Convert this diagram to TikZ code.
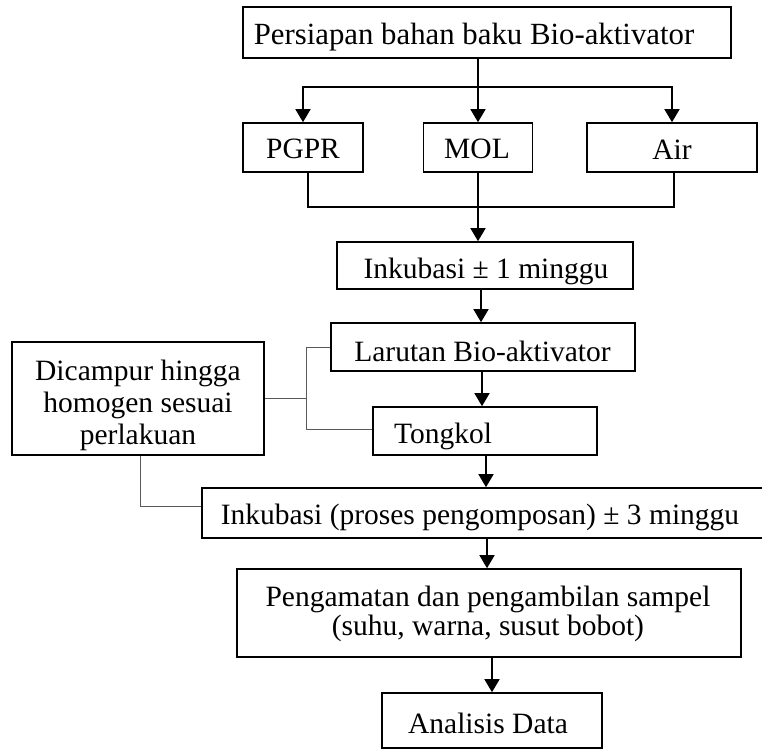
\documentclass[tikz,border=0pt]{standalone}
\usepackage{fontspec}
\setmainfont{Liberation Serif}
\usetikzlibrary{arrows.meta}
\begin{document}
\begin{tikzpicture}[x=1pt,y=-1pt,
  box/.style={draw=black,line width=1.6pt,inner sep=0pt,rectangle},
  txt/.style={inner sep=0pt,anchor=base,font=\fontsize{29.5}{31}\selectfont},
  arr/.style={line width=1.5pt,-{Triangle[length=13pt,width=15pt]}},
  conn/.style={line width=1.5pt},
  gline/.style={line width=1pt,draw=black!65}]
\useasboundingbox (0,0) rectangle (762,749);
\clip (0,0) rectangle (762,749);
% boxes
\node[box,minimum width=488pt,minimum height=51pt] (top) at (487,32.5) {};
\node[box,minimum width=120pt,minimum height=49pt] (pgpr) at (303,147.5) {};
\node[box,minimum width=109pt,minimum height=49pt] (mol) at (478,147.5) {};
\node[box,minimum width=170pt,minimum height=49pt] (air) at (672,147.5) {};
\node[box,minimum width=296pt,minimum height=47pt] (ink1) at (485,265.5) {};
\node[box,minimum width=304pt,minimum height=48pt] (lar) at (483,347) {};
\node[box,minimum width=224pt,minimum height=48pt] (tong) at (485,431) {};
\node[box,minimum width=573pt,minimum height=50pt] (ink2) at (488.5,513) {};
\node[box,minimum width=504pt,minimum height=88pt] (peng) at (489,613) {};
\node[box,minimum width=220pt,minimum height=55pt] (anal) at (492,720.5) {};
\node[box,minimum width=252pt,minimum height=113pt] (dic) at (138,398.5) {};
% texts
\node[txt,font=\fontsize{30.8}{32}\selectfont] (ttop) at (474,45) {Persiapan bahan baku Bio-aktivator};
\node[txt] (tpgpr) at (303,158) {PGPR};
\node[txt] (tmol) at (477,158) {MOL};
\node[txt] (tair) at (672,159) {Air};
\node[txt] (tink1) at (486,278) {Inkubasi ± 1 minggu};
\node[txt] (tlar) at (482.5,361) {Larutan Bio-aktivator};
\node[txt,anchor=base west] (ttong) at (394,443) {Tongkol};
\node[txt] (tink2) at (480,524) {Inkubasi (proses pengomposan) ± 3 minggu};
\node[txt,align=center,font=\fontsize{29.5}{29}\selectfont] (tpeng) at (488,635) {Pengamatan dan pengambilan sampel\\(suhu, warna, susut bobot)};
\node[txt] (tanal) at (488,733) {Analisis Data};
\node[txt,align=center,font=\fontsize{29.5}{32}\selectfont] (tdic) at (138,444) {Dicampur hingga\\homogen sesuai\\perlakuan};
% connectors
\coordinate (br) at (478,87);
\coordinate (mg) at (478,207);
\draw[conn] (top.south -| mol.north) -- (br);
\draw[arr] (br) -- (mol.north);
\draw[arr] (br) -| (pgpr.north);
\draw[arr] (br) -| (air.north);
\draw[conn] ([xshift=5pt]pgpr.south) |- (mg);
\draw[conn] ([xshift=2pt]air.south) |- (mg);
\draw[conn] (mol.south) -- (mg);
\draw[arr] (mg) -- (mg |- ink1.north);
\draw[arr] ([xshift=-4pt]ink1.south) -- ([xshift=-4pt]ink1.south |- lar.north);
\draw[arr] ([xshift=-1pt]lar.south) -- ([xshift=-1pt]lar.south |- tong.north);
\draw[arr] ([xshift=1pt]tong.south) -- ([xshift=1pt]tong.south |- ink2.north);
\draw[arr] (anal.north |- ink2.south) ++(-5pt,0) coordinate (p1) -- (p1 |- peng.north);
\draw[arr] (anal.north |- peng.south) -- (anal.north);
% bracket
\coordinate (bk) at (306,398.5);
\draw[gline] (dic.east) -- (bk);
\draw[gline] (lar.west) -| (bk);
\draw[gline] ([yshift=2pt]tong.west) -| (bk);
\draw[gline] ([xshift=2pt]dic.south) |- ([yshift=7pt]ink2.west);
\end{tikzpicture}
\end{document}
